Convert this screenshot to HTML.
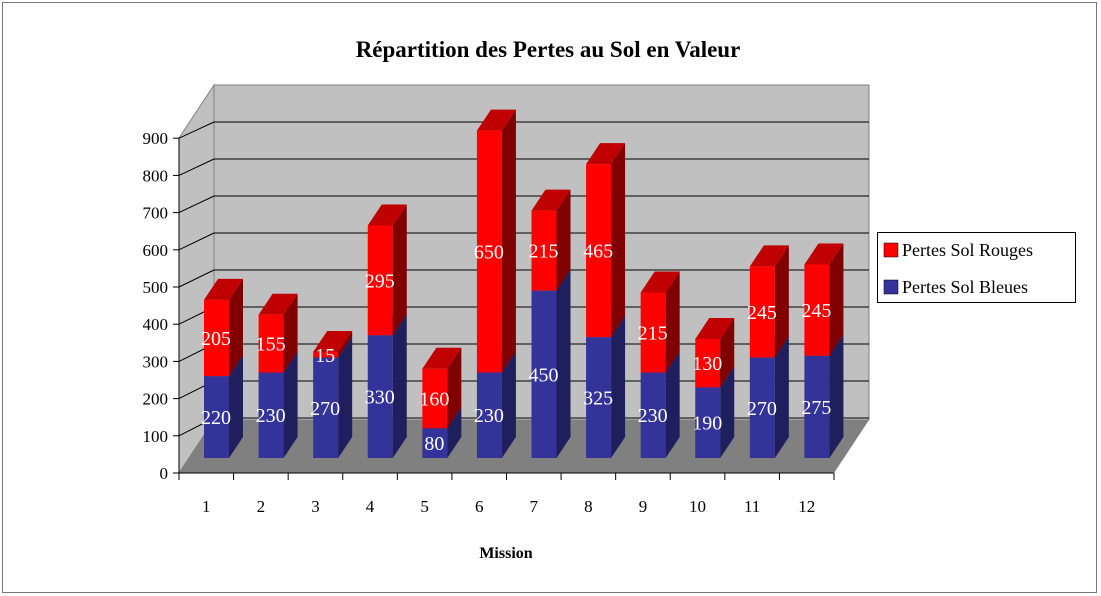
<!DOCTYPE html>
<html><head><meta charset="utf-8"><style>
html,body{margin:0;padding:0;background:#fff;}
svg{display:block;font-family:"Liberation Serif",serif;}
</style></head><body>
<svg id="s" width="1101" height="596" xmlns="http://www.w3.org/2000/svg">
<rect x="0" y="0" width="1101" height="596" fill="#fff"/>
<rect x="2.5" y="2.5" width="1094" height="590" fill="none" stroke="#777" stroke-width="1"/>
<text x="548" y="57" text-anchor="middle" font-size="23" font-weight="bold">Répartition des Pertes au Sol en Valeur</text>
<polygon points="214,85 869,85 869,420 214,420" fill="#c0c0c0" stroke="#808080"/>
<polygon points="179,138 214,85 214,420 179,473" fill="#c0c0c0" stroke="#808080"/>
<polygon points="179,473 214,420 869,420 834,473" fill="#808080"/>
<g id="g"></g>
<rect x="877.5" y="232.5" width="198" height="70" fill="#fff" stroke="#000"/>
<rect x="884" y="243" width="14" height="14" fill="#ff0000" stroke="#000" stroke-width="0.5"/>
<rect x="884" y="280" width="14" height="14" fill="#333399" stroke="#000" stroke-width="0.5"/>
<text x="902" y="256" font-size="18">Pertes Sol Rouges</text>
<text x="902" y="293" font-size="18">Pertes Sol Bleues</text>
<text x="506" y="558" text-anchor="middle" font-size="16" font-weight="bold">Mission</text>
</svg>
<script>
var g=document.getElementById('g'),h='';
var K=0.372;
for(var k=1;k<=9;k++){var yb=455-37*k;h+='<line x1="214" y1="'+yb+'" x2="869" y2="'+yb+'" stroke="#000"/>';
var yf=473-37.2*k;h+='<line x1="179" y1="'+yf+'" x2="214" y2="'+yb+'" stroke="#000"/>';}
h+='<line x1="179" y1="138" x2="179" y2="473" stroke="#000"/><line x1="179" y1="473" x2="834" y2="473" stroke="#000"/>';
for(var k=0;k<=9;k++){var y=473-37.2*k;h+='<line x1="173" y1="'+y+'" x2="179" y2="'+y+'" stroke="#000"/><text x="168" y="'+(y+6)+'" text-anchor="end" font-size="17">'+(k*100)+'</text>';}
var b=[220,230,270,330,80,230,450,325,230,190,270,275],r=[205,155,15,295,160,650,215,465,215,130,245,245];
var sp=(834-179)/12;
for(var i=0;i<=12;i++){var x=179+sp*i;h+='<line x1="'+x+'" y1="473" x2="'+x+'" y2="480" stroke="#000"/>';
if(i<12)h+='<text x="'+(x+sp/2)+'" y="512" text-anchor="middle" font-size="17">'+(i+1)+'</text>';}
var dx=14,dy=-21,w=25,base=458;
function box(x,y0,y1,f,s,t){var o='<polygon points="'+x+','+y1+' '+(x+w)+','+y1+' '+(x+w)+','+y0+' '+x+','+y0+'" fill="'+f+'"/>';
o+='<polygon points="'+(x+w)+','+y0+' '+(x+w+dx)+','+(y0+dy)+' '+(x+w+dx)+','+(y1+dy)+' '+(x+w)+','+y1+'" fill="'+s+'"/>';
o+='<polygon points="'+x+','+y1+' '+(x+dx)+','+(y1+dy)+' '+(x+w+dx)+','+(y1+dy)+' '+(x+w)+','+y1+'" fill="'+t+'"/>';return o;}
var lab='';
for(var i=0;i<12;i++){var x=179+sp*i+25;var yb=base-b[i]*K,yr=yb-r[i]*K;
h+=box(x,base,yb,'#333399','#1f1f5e','#262680');
h+=box(x,yb,yr,'#ff0000','#800000','#c00000');
lab+='<text x="'+(x+12)+'" y="'+((base+yb)/2+7)+'" text-anchor="middle" font-size="20" fill="#fff">'+b[i]+'</text>';
lab+='<text x="'+(x+12)+'" y="'+((yb+yr)/2+7)+'" text-anchor="middle" font-size="20" fill="#fff">'+r[i]+'</text>';}
g.innerHTML=h+lab;
</script>
</body></html>
